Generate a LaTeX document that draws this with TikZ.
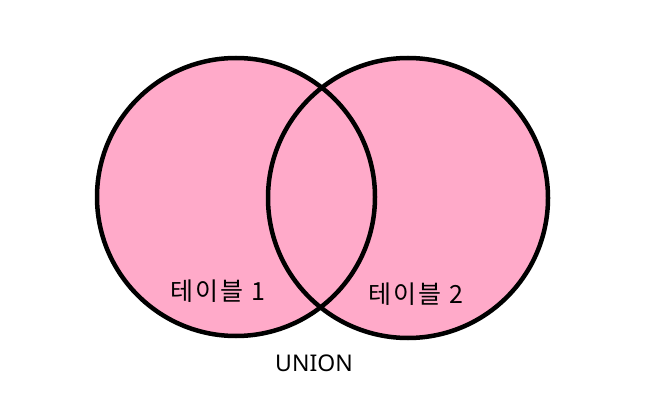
\documentclass[tikz,border=0pt]{standalone}
\usepackage{fontspec}
\setmainfont{Noto Sans}
\newfontfamily\krfont[LetterSpace=8]{Noto Sans CJK KR}
\usepackage{xcolor}
\definecolor{setpink}{RGB}{255,170,201}
\begin{document}
\begin{tikzpicture}[x=1pt,y=-1pt,
    setline/.style={line width=4.5pt},
    setlabel/.style={font=\krfont\fontsize{25}{30}\selectfont,inner sep=0pt}]
    \useasboundingbox (0,0) rectangle (656,409);
    % Table 1 and table 2
    \fill[setpink] (236,197) circle (139);
    \fill[setpink] (408,198) circle (140);
    \draw[setline] (236,197) circle (139);
    \draw[setline] (408,198) circle (140);
    \node[setlabel] (tableone) at (218,291) {테이블 1};
    \node[setlabel] (tabletwo) at (416,294) {테이블 2};
    % Caption
    \node[font=\fontsize{23}{27}\selectfont,inner sep=0pt] (caption) at (314,363) {UNION};
\end{tikzpicture}
\end{document}
